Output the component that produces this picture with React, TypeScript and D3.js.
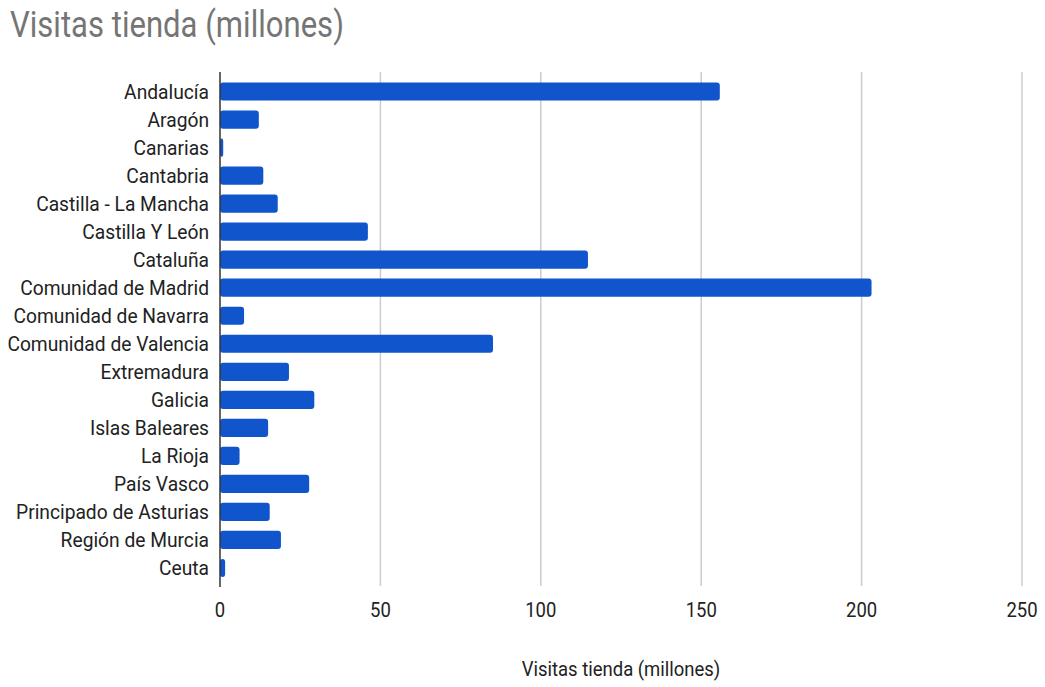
import React from "react";
import * as d3 from "d3";

const categories = [
  "Andalucía",
  "Aragón",
  "Canarias",
  "Cantabria",
  "Castilla - La Mancha",
  "Castilla Y León",
  "Cataluña",
  "Comunidad de Madrid",
  "Comunidad de Navarra",
  "Comunidad de Valencia",
  "Extremadura",
  "Galicia",
  "Islas Baleares",
  "La Rioja",
  "País Vasco",
  "Principado de Asturias",
  "Región de Murcia",
  "Ceuta",
];

const visitas = [155.8, 12.1, 1.0, 13.5, 18.0, 46.1, 114.7, 203.1, 7.5, 85.1, 21.5, 29.4, 15.0, 6.1, 27.8, 15.5, 19.0, 1.6];

const xTicks = [0, 50, 100, 150, 200, 250];

const title = "Visitas tienda (millones)";
const axisTitle = "Visitas tienda (millones)";

const W = 1045;
const H = 687;
const SX = 0.88;
const SXL = 0.915;
const FONT = "Roboto, Arial, sans-serif";

export default function App() {
  const x = d3.scaleLinear().domain([0, 250]).range([220, 1022]);
  const y = d3
    .scaleBand<string>()
    .domain(categories)
    .range([77.5, 582])
    .paddingInner(0.35)
    .paddingOuter(0.175);

  return (
    <svg
      width={W}
      height={H}
      style={{ position: "absolute", left: 0, top: 0, background: "#fff" }}
    >
      <rect x={0} y={0} width={W} height={H} fill="#fff" />
      <g transform={`translate(10,37) scale(0.84,1)`}>
        <text x={0} y={0} fontFamily={FONT} fontSize={37} fill="#757575">
          {title}
        </text>
      </g>

      {xTicks.map((t) =>
        t === 0 ? null : (
          <line
            key={"g" + t}
            x1={x(t)}
            x2={x(t)}
            y1={72}
            y2={586}
            stroke="#cccccc"
            strokeWidth={1.5}
          />
        )
      )}

      {categories.map((c, i) => (
        <rect
          key={"b" + c}
          x={x(0)}
          y={y(c)}
          width={x(visitas[i]) - x(0)}
          height={y.bandwidth()}
          rx={3}
          ry={3}
          fill="#1155cc"
        />
      ))}

      <line x1={x(0)} x2={x(0)} y1={72} y2={587} stroke="#333333" strokeWidth={1.5} />

      {categories.map((c) => (
        <g
          key={"l" + c}
          transform={`translate(209,${(y(c) as number) + y.bandwidth() / 2}) scale(${SXL},1)`}
        >
          <text
            x={0}
            y={0}
            dy="0.34em"
            textAnchor="end"
            fontFamily={FONT}
            fontSize={21}
            fill="#222222"
          >
            {c}
          </text>
        </g>
      ))}

      {xTicks.map((t) => (
        <g key={"t" + t} transform={`translate(${x(t)},617) scale(${SX},1)`}>
          <text x={0} y={0} textAnchor="middle" fontFamily={FONT} fontSize={21} fill="#222222">
            {t}
          </text>
        </g>
      ))}

      <g transform={`translate(621,676) scale(${SX},1)`}>
        <text x={0} y={0} textAnchor="middle" fontFamily={FONT} fontSize={21} fill="#222222">
          {axisTitle}
        </text>
      </g>
    </svg>
  );
}
